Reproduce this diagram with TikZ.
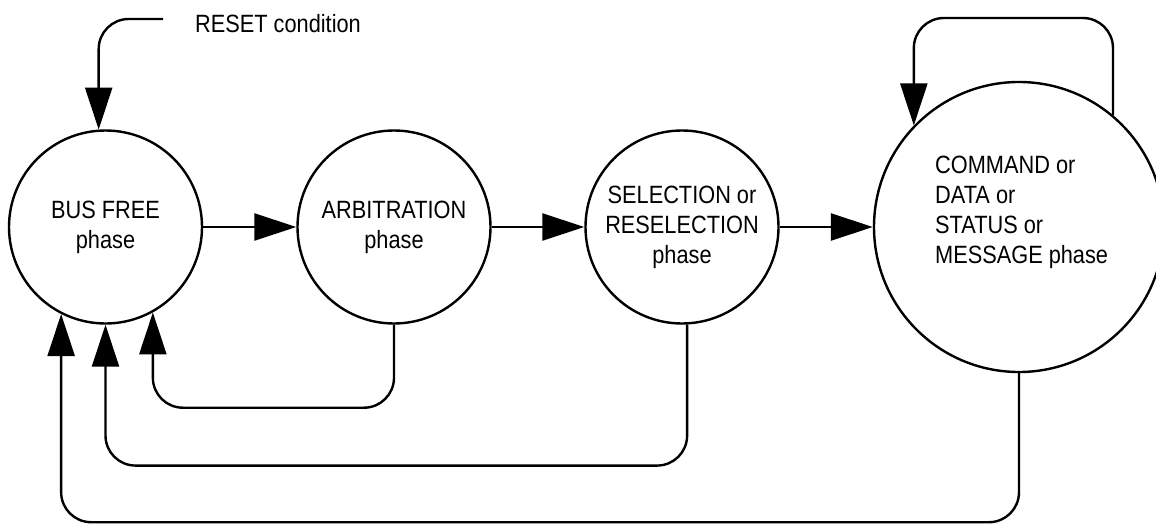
\documentclass[tikz,border=0pt]{standalone}
\usepackage{fontspec}
\setmainfont{Liberation Sans}[FakeStretch=0.87]
\usetikzlibrary{arrows.meta}
\begin{document}
\begin{tikzpicture}[x=1pt,y=-1pt,
  every node/.style={font=\fontsize{25}{30}\selectfont},
  state/.style={draw, circle, line width=2.4pt, inner sep=0pt, align=center},
  conn/.style={line width=2.4pt, -{Triangle[length=42pt,width=27pt]}},
  loop/.style={conn, rounded corners=30pt}]
\useasboundingbox (0,0) rectangle (1156,524);
\node[state, minimum size=193pt] (bus) at (105.5,227) {BUS FREE\\phase};
\node[state, minimum size=193pt] (arb) at (394,227) {ARBITRATION\\phase};
\node[state, minimum size=193pt] (sel) at (682,227) {SELECTION or\\RESELECTION\\phase};
\node[state, minimum size=290pt] (cmd) at (1019,227) {};
\node[align=left, anchor=west, inner sep=0pt] (cmdlbl) at (935,212) {COMMAND or\\DATA or\\STATUS or\\MESSAGE phase};
\node[anchor=west, inner sep=0pt] (rstlbl) at (195,24) {RESET condition};
\coordinate (rst) at (163,19);
\draw[conn] (bus.east) -- (arb.west);
\draw[conn] (arb.east) -- (sel.west);
\draw[conn] (sel.east) -- (cmd.west);
\draw[loop] (rst) -| (bus.94);
\draw[loop] (cmd.50) -- ++(0,-97) -| (cmd.136);
\draw[loop] (arb.south) -- ++(0,83) -| (bus.-61);
\draw[loop] (sel.-87) -- ++(0,141) -| (bus.south);
\draw[loop] (cmd.south) -- ++(0,149) -| (bus.-117.6);
\end{tikzpicture}
\end{document}
